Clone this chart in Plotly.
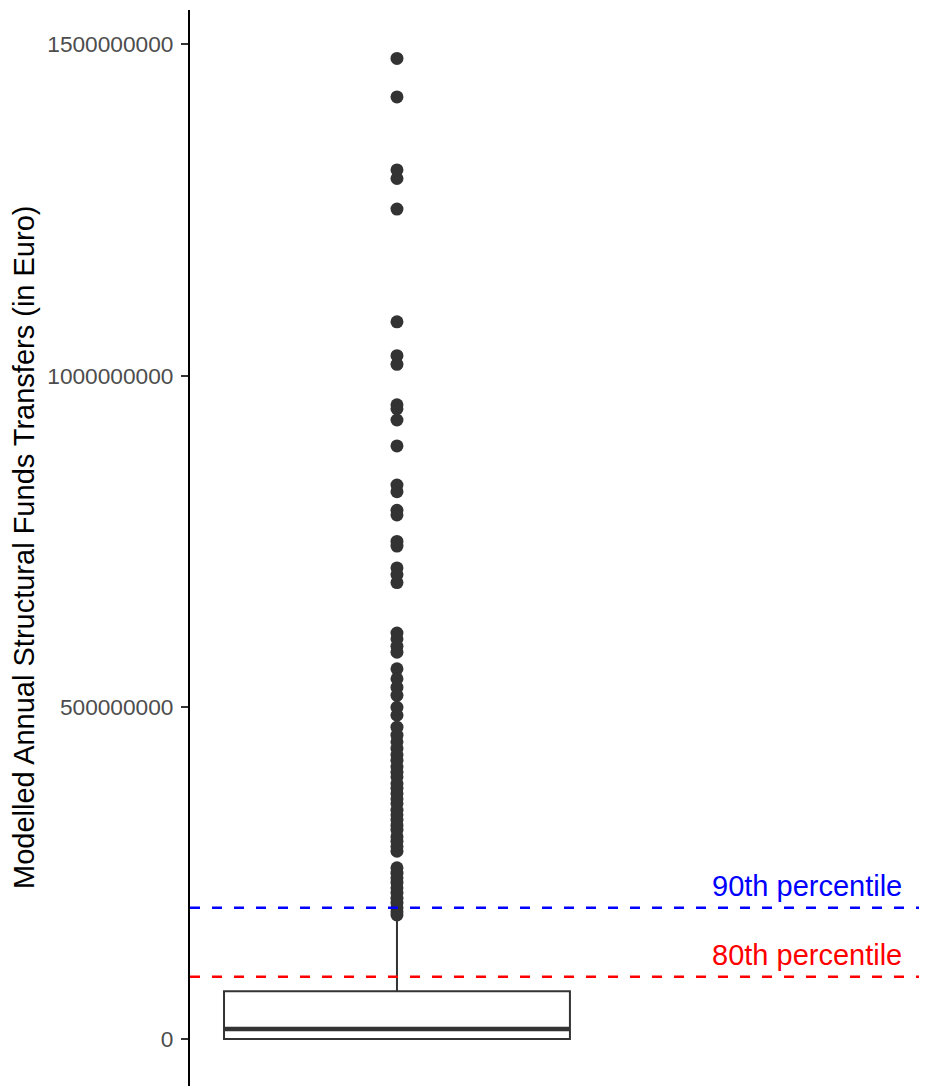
import plotly.graph_objects as go

# ---- data (values in Euro) ----
box_q1 = [0]
box_median = [15e6]
box_q3 = [72e6]
box_lowerfence = [0]
box_upperfence = [178e6]

outliers_millions = [
    1478, 1420, 1310, 1297, 1251,
    1081, 1030, 1017, 956, 950, 933, 894, 835, 825, 797, 790, 750, 743, 710, 700, 688,
    612, 603, 592, 583, 558, 543, 530, 518, 500, 488,
    470, 458, 448, 438, 428, 420, 410, 402, 395, 385, 378, 370, 362, 355, 345, 338,
    330, 322, 315, 305, 298, 290, 283,
    258, 250, 243, 236, 228, 220, 212, 205, 198, 192, 187,
]
outliers = [v * 1e6 for v in outliers_millions]

p90 = 198e6
p80 = 94e6
p_labels = ["90th percentile", "80th percentile"]
p_values = [p90, p80]
p_colors = ["#0000FF", "#FF0000"]

tick_vals = [0, 500000000, 1000000000, 1500000000]
tick_text = ["0", "500000000", "1000000000", "1500000000"]

y_title = "Modelled Annual Structural Funds Transfers (in Euro)"

BOX_X = 1
BOX_W = 0.9
DARK = "#333333"
FONT = "Liberation Sans, Arial, sans-serif"

fig = go.Figure()

fig.add_trace(go.Box(
    x=[BOX_X], q1=box_q1, median=box_median, q3=box_q3,
    lowerfence=box_lowerfence, upperfence=box_upperfence,
    width=BOX_W, fillcolor="white", line=dict(color=DARK, width=2),
    whiskerwidth=0, boxpoints=False, showlegend=False, hoverinfo="skip",
))

# thicker median (ggplot fatten)
fig.add_trace(go.Scatter(
    x=[BOX_X - BOX_W / 2, BOX_X + BOX_W / 2], y=box_median * 2,
    mode="lines", line=dict(color=DARK, width=4.5), showlegend=False, hoverinfo="skip",
))

fig.add_trace(go.Scatter(
    x=[BOX_X] * len(outliers), y=outliers, mode="markers",
    marker=dict(color=DARK, size=13, line=dict(width=0)),
    showlegend=False,
))

for lab, val, col in zip(p_labels, p_values, p_colors):
    fig.add_shape(type="line", xref="paper", x0=0, x1=1, yref="y", y0=val, y1=val,
                  line=dict(color=col, width=2.5, dash="10px,12px"), layer="above")
    fig.add_annotation(x=2.068, y=val, xref="x", yref="y", text=lab, showarrow=False,
                       font=dict(family=FONT, size=29, color=col),
                       xanchor="center", yanchor="middle", yshift=22)

fig.add_annotation(x=(24 - 190) / 737, y=0.5, xref="paper", yref="paper", xanchor="center",
                   yanchor="middle", text=y_title, textangle=-90, showarrow=False,
                   font=dict(family=FONT, size=29, color="black"))

fig.update_layout(
    width=919, height=1078,
    margin=dict(l=182, r=0, t=2, b=0),
    paper_bgcolor="white", plot_bgcolor="white",
    font=dict(family=FONT),
    xaxis=dict(range=[0.4615, 2.379], showticklabels=False, showgrid=False,
               zeroline=False, showline=False, ticks=""),
    yaxis=dict(range=[-70.8e6, 1551e6], tickvals=tick_vals, ticktext=tick_text,
               tickfont=dict(family=FONT, size=22.7, color="#4D4D4D"),
               ticks="outside", ticklen=7, tickwidth=1.5, tickcolor=DARK,
               ticklabelstandoff=3,
               showline=True, linecolor="black", linewidth=2,
               showgrid=False, zeroline=False),
)

fig.write_html("out.html")
